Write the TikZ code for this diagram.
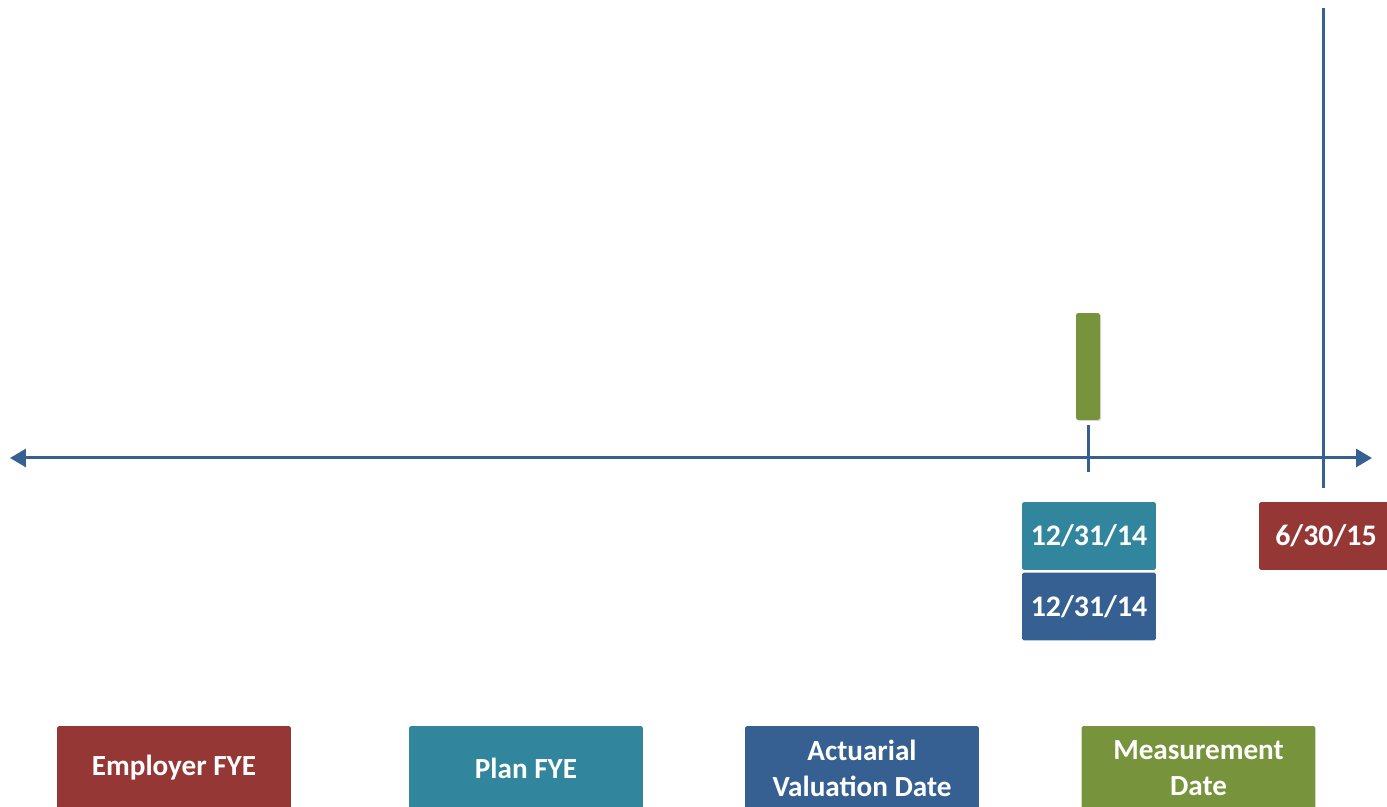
\documentclass[tikz,border=0pt]{standalone}
\usepackage{fontspec}
\setmainfont{Carlito}
\usepackage{xcolor}
\usetikzlibrary{arrows.meta, positioning, shadows}

\definecolor{axisblue}{RGB}{54,96,146}
\definecolor{tealbox}{RGB}{49,133,156}
\definecolor{redbox}{RGB}{149,55,53}
\definecolor{greenbox}{RGB}{119,147,60}

\begin{document}
\begin{tikzpicture}[
  x=0.02cm, y=-0.02cm,
  every node/.style={font=\bfseries, text=white},
  datebox/.style={rectangle, rounded corners=1pt, minimum width=2.68cm,
                  minimum height=1.36cm, align=center, font=\fontsize{17}{20}\selectfont\bfseries},
  keybox/.style={rectangle, rounded corners=1pt, minimum width=4.68cm,
                 minimum height=1.68cm, align=center, font=\fontsize{16.6}{20.5}\selectfont\bfseries},
  axisline/.style={draw=axisblue, line width=0.06cm},
  arrow/.style={axisline, {Triangle[length=0.32cm, width=0.36cm]}-{Triangle[length=0.32cm, width=0.36cm]}},
]
\useasboundingbox (0,0) rectangle (1387,807);
% time axis
\coordinate (left)  at (10,458);
\coordinate (right) at (1372,458);
\draw[arrow] (left) -- (right);
% tick and measurement line
\coordinate (tickup)   at (1088,425);
\coordinate (tickdown) at (1088,472);
\draw[axisline] (tickup) -- (tickdown);
\coordinate (lineup)   at (1323,8);
\coordinate (linedown) at (1323,488);
\draw[axisline] (lineup) -- (linedown);
% marker
\node[rectangle, rounded corners=1pt, fill=greenbox, minimum width=0.48cm,
      minimum height=2.14cm, drop shadow={shadow xshift=0.6pt, shadow yshift=-0.6pt, opacity=0.3}]
      (bar) at (1088,366.5) {};
% dates
\node[datebox, fill=tealbox]  (plandate)  at (1089,536)   {12/31/14};
\node[datebox, fill=axisblue] (valdate)   at (1089,606.5) {12/31/14};
\node[datebox, fill=redbox]   (empdate)   at (1326,536)   {6/30/15};
% legend
\node[keybox, fill=redbox]    (employer)  at (174,768)    {Employer FYE};
\node[keybox, fill=tealbox]   (plan)      at (526,768)    {Plan FYE};
\node[keybox, fill=axisblue]  (actuarial) at (862,768)    {Actuarial\\Valuation Date};
\node[keybox, fill=greenbox]  (measure)   at (1198.5,768) {Measurement\\Date};
\end{tikzpicture}
\end{document}
